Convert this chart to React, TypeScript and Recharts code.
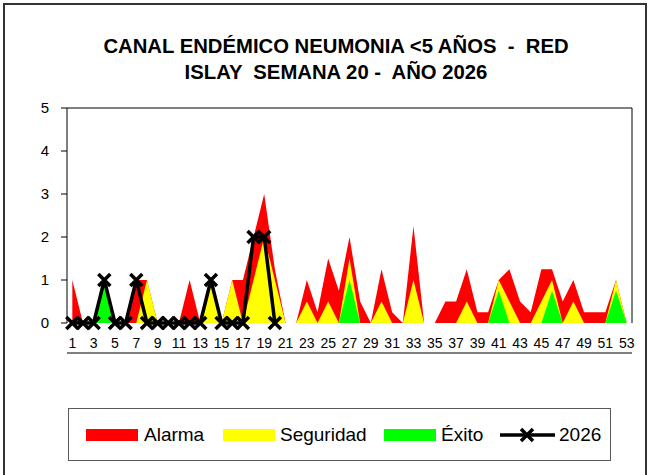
import React from 'react';
import { ComposedChart, Area, Line, XAxis, YAxis } from 'recharts';

const weeks = [1,2,3,4,5,6,7,8,9,10,11,12,13,14,15,16,17,18,19,20,21,22,23,24,25,26,27,28,29,30,31,32,33,34,35,36,37,38,39,40,41,42,43,44,45,46,47,48,49,50,51,52,53];
const alarma = [1,0,0,1,0,0,1,1,0,0,0,1,0,1,0,1,1,2,3,1.25,0,0,1,0.25,1.5,0.75,2,0.5,0,1.25,0.25,0,2.25,0,0,0.5,0.5,1.25,0.25,0.25,1,1.25,0.5,0.25,1.25,1.25,0.5,1,0.25,0.25,0.25,1,0];
const seguridad = [0,0,0,1,0,0,0,1,0,0,0,0,0,1,0,1,0,1,2,1,0,0,0.5,0,0.5,0,1.5,0,0,0.5,0,0,1,0,0,0,0,0.5,0,0,1,0.5,0,0,0.5,1,0,0.5,0,0,0,1,0];
const exito = [0,0,0,1,0,0,0,0,0,0,0,0,0,0,0,0,0,0,0,0,0,0,0,0,0,0,1,0,0,0,0,0,0,0,0,0,0,0,0,0,0.75,0,0,0,0,0.75,0,0,0,0,0,0.75,0];
const y2026: (number | null)[] = [0,0,0,1,0,0,1,0,0,0,0,0,0,1,0,0,0,2,2,0];
const xLabelTicks = [1,3,5,7,9,11,13,15,17,19,21,23,25,27,29,31,33,35,37,39,41,43,45,47,49,51,53];
const xBoundaryTicks = [0.5,1.5,2.5,3.5,4.5,5.5,6.5,7.5,8.5,9.5,10.5,11.5,12.5,13.5,14.5,15.5,16.5,17.5,18.5,19.5,20.5,21.5,22.5,23.5,24.5,25.5,26.5,27.5,28.5,29.5,30.5,31.5,32.5,33.5,34.5,35.5,36.5,37.5,38.5,39.5,40.5,41.5,42.5,43.5,44.5,45.5,46.5,47.5,48.5,49.5,50.5,51.5,52.5,53.5];
const yTicks = [0,1,2,3,4,5];
const titleLines = ['CANAL ENDÉMICO NEUMONIA <5 AÑOS  -  RED', 'ISLAY  SEMANA 20 -  AÑO 2026'];

const data = weeks.map((w, i) => ({
  week: w,
  alarma: alarma[i],
  seguridad: seguridad[i],
  exito: exito[i],
  y2026: i < y2026.length ? y2026[i] : null,
}));

const FONT = '"Liberation Sans", Arial, sans-serif';
const XDOMAIN: [number, number] = [0.5, 53.5];
const YDOMAIN: [number, number] = [0, 5];

const CrossDot = (props: any) => {
  const { cx, cy, index, value } = props;
  if (cx == null || cy == null || value == null) return <g key={`d${index}`} />;
  const s = 6;
  return (
    <path
      key={`d${index}`}
      d={`M${cx - s},${cy - s}L${cx + s},${cy + s}M${cx + s},${cy - s}L${cx - s},${cy + s}`}
      stroke="#000"
      strokeWidth={3.5}
      fill="none"
    />
  );
};

export default function App() {
  return (
    <div style={{ position: 'absolute', left: 0, top: 0, width: 649, height: 475, overflow: 'hidden', background: '#fff' }}>
      <div style={{ position: 'absolute', left: 0, top: 0 }}>
        <ComposedChart
          width={649}
          height={475}
          data={data}
          margin={{ top: 107, right: 16, bottom: 121, left: 7 }}
          style={{ fontFamily: FONT }}
        >
          <XAxis
            xAxisId="ticks"
            dataKey="week"
            type="number"
            domain={XDOMAIN}
            ticks={xBoundaryTicks}
            interval={0}
            tick={false}
            tickSize={6}
            height={1}
            axisLine={{ stroke: '#000', strokeWidth: 1 }}
            tickLine={{ stroke: '#000', strokeWidth: 1 }}
          />
          <XAxis
            xAxisId="a"
            dataKey="week"
            type="number"
            domain={XDOMAIN}
            ticks={xLabelTicks}
            interval={0}
            tickSize={6}
            tickMargin={9}
            height={30}
            axisLine={false}
            tickLine={false}
            tick={{ fontSize: 14, fill: '#000', fontFamily: FONT }}
          />
          <XAxis
            xAxisId="top"
            dataKey="week"
            type="number"
            domain={XDOMAIN}
            ticks={xLabelTicks}
            orientation="top"
            height={1}
            tick={false}
            tickLine={false}
            axisLine={{ stroke: '#000', strokeWidth: 1 }}
          />
          <YAxis
            yAxisId="left"
            type="number"
            domain={YDOMAIN}
            ticks={yTicks}
            interval={0}
            width={60}
            tickSize={6}
            tickMargin={12}
            axisLine={{ stroke: '#000', strokeWidth: 1 }}
            tickLine={{ stroke: '#000', strokeWidth: 1 }}
            tick={{ fontSize: 15, fill: '#000', fontFamily: FONT }}
          />
          <YAxis
            yAxisId="right"
            type="number"
            orientation="right"
            domain={YDOMAIN}
            ticks={yTicks}
            width={1}
            tick={false}
            tickLine={false}
            axisLine={{ stroke: '#000', strokeWidth: 1 }}
          />
          <Area xAxisId="ticks" yAxisId="left" type="linear" dataKey="alarma" fill="#FF0000" fillOpacity={1} stroke="none" isAnimationActive={false} dot={false} activeDot={false} />
          <Area xAxisId="top" yAxisId="left" type="linear" dataKey="seguridad" fill="#FFFF00" fillOpacity={1} stroke="none" isAnimationActive={false} dot={false} activeDot={false} />
          <Area xAxisId="a" yAxisId="left" type="linear" dataKey="exito" fill="#00FF00" fillOpacity={1} stroke="none" isAnimationActive={false} dot={false} activeDot={false} />
          <Line xAxisId="a" yAxisId="right" type="linear" dataKey="y2026" stroke="#000" strokeWidth={3.5} dot={<CrossDot />} activeDot={false} isAnimationActive={false} connectNulls={false} />
        </ComposedChart>
      </div>
      <svg width={649} height={475} style={{ position: 'absolute', left: 0, top: 0, pointerEvents: 'none', fontFamily: FONT }}>
        <rect x={4} y={4} width={642} height={490} fill="none" stroke="#333" strokeWidth={2} />
        <text x={336} y={53} textAnchor="middle" fontSize={20.3} fontWeight="bold" fill="#000" style={{ whiteSpace: 'pre' }}>{titleLines[0]}</text>
        <text x={336} y={79} textAnchor="middle" fontSize={20.3} fontWeight="bold" fill="#000" style={{ whiteSpace: 'pre' }}>{titleLines[1]}</text>
        <rect x={68.5} y={408.5} width={542} height={52} fill="#fff" stroke="#595959" strokeWidth={1} />
        <rect x={86} y={429} width={52} height={12} fill="#FF0000" />
        <text x={144} y={441} fontSize={19} fill="#000">Alarma</text>
        <rect x={223} y={429} width={52} height={12} fill="#FFFF00" />
        <text x={280} y={441} fontSize={19} fill="#000">Seguridad</text>
        <rect x={384} y={429} width={52} height={12} fill="#00FF00" />
        <text x={441} y={441} fontSize={19} fill="#000">Éxito</text>
        <line x1={500} y1={435} x2={555} y2={435} stroke="#000" strokeWidth={3.5} />
        <path d="M521,429L533,441M533,429L521,441" stroke="#000" strokeWidth={3.5} />
        <text x={559} y={441} fontSize={19} fill="#000">2026</text>
      </svg>
    </div>
  );
}
